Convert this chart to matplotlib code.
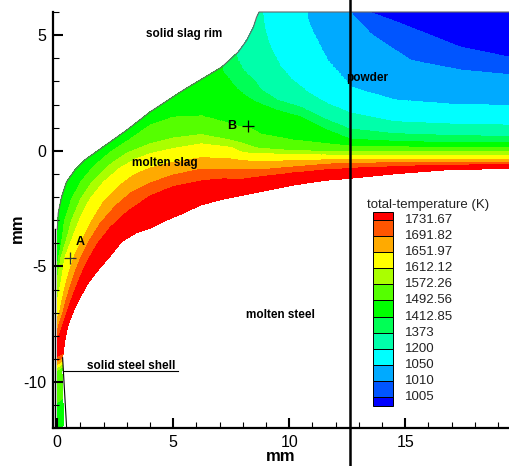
import numpy as np
import matplotlib
matplotlib.use("Agg")
import matplotlib.pyplot as plt
from matplotlib.patches import Rectangle

plt.rcParams['font.family'] = ['Liberation Sans', 'DejaVu Sans']
plt.rcParams['axes.unicode_minus'] = False

# contour levels of total temperature (K), hottest first, and the band colours
levels = [1731.67, 1691.82, 1651.97, 1612.12, 1572.26, 1492.56, 1412.85, 1373, 1200, 1050, 1010, 1005]
band_colors = ['#ff0000', '#ff5500', '#ffaa00', '#ffff00', '#aaff00', '#55ff00', '#00ff00',
               '#00ff55', '#00ffaa', '#00ffff', '#00aaff', '#0055ff', '#0000ff']

# slag / molten steel interface (mm) and the temperature on it (K)
surf_x = [0.3, 0.2, 0.22, 0.27, 0.33, 0.47, 0.69, 0.98, 1.27, 1.7, 2.2, 2.78, 3.4, 4.0, 4.72,
          5.43, 6.15, 7.4, 8.74, 10.17, 11.61, 12.62, 14.48, 16.64, 19.8]
surf_y = [-12.5, -9.6, -9.0, -8.6, -8.16, -7.51, -6.94, -6.36, -5.79, -5.22, -4.64, -3.92, -3.55,
          -3.34, -2.99, -2.7, -2.35, -2.02, -1.77, -1.48, -1.27, -1.19, -1.0, -0.83, -0.75]
surf_T = [1480, 1500, 1680] + [1760] * 22

# outer edge of the liquid slag: mould wall, solid slag rim, powder top
rim_x = [0.0, 0.0, 0.04, 0.19, 0.4, 0.76, 1.18, 1.98, 2.99, 4.0, 5.43, 7.09, 7.8, 8.16, 8.45,
         8.59, 8.7, 19.8]
rim_y = [-12.5, -3.4, -2.7, -1.98, -1.34, -0.83, -0.4, 0.17, 0.89, 1.68, 2.62, 3.62, 4.27, 4.77,
         5.34, 5.78, 6.0, 6.0]

# isotherms (x list, y list), mm
iso_1731 = ([-0.06, 0.12, 0.25, 0.42, 0.62, 0.85, 1.1, 1.4, 1.75, 2.3, 3.0, 4.0, 5.0, 6.2, 7.5,
             8.74, 10.2, 11.6, 12.6, 14.5, 16.6, 19.8],
            [-8.25, -7.9, -7.5, -7.0, -6.4, -5.8, -5.2, -4.6, -4.0, -3.3, -2.65, -1.95, -1.55, -1.3,
             -1.17, -1.12, -0.95, -0.82, -0.76, -0.68, -0.62, -0.58])
iso_1692 = ([-0.06, 0.08, 0.24, 0.4, 0.58, 0.78, 1.02, 1.35, 1.85, 2.5, 3.2, 4.0, 5.0, 6.2, 7.5,
             8.74, 10.2, 11.6, 12.6, 14.5, 16.6, 19.8],
            [-7.95, -7.5, -7.0, -6.4, -5.8, -5.2, -4.6, -3.95, -3.15, -2.4, -1.8, -1.4, -1.05, -0.8,
             -0.8, -0.83, -0.7, -0.58, -0.54, -0.52, -0.5, -0.5])
iso_1652 = ([-0.06, 0.1, 0.22, 0.36, 0.52, 0.72, 1.02, 1.45, 2.0, 2.7, 3.3, 4.0, 5.0, 6.2, 7.5,
             8.74, 10.2, 12.6, 16.6, 19.8],
            [-7.4, -7.0, -6.4, -5.8, -5.2, -4.6, -3.95, -3.1, -2.2, -1.5, -1.05, -0.75, -0.5, -0.3,
             -0.35, -0.47, -0.43, -0.37, -0.37, -0.37])
iso_1612 = ([-0.06, 0.02, 0.14, 0.24, 0.33, 0.6, 0.95, 1.4, 2.0, 2.7, 3.4, 4.0, 5.0, 6.2, 7.5,
             8.74, 10.2, 12.6, 16.6, 19.8],
            [-6.6, -6.4, -5.8, -5.2, -4.6, -3.9, -3.0, -2.1, -1.35, -0.75, -0.35, -0.13, 0.1, 0.3,
             0.15, -0.11, -0.17, -0.19, -0.19, -0.19])
iso_1572 = ([-0.06, 0.06, 0.16, 0.38, 0.62, 1.0, 1.5, 2.2, 3.0, 4.0, 5.0, 6.2, 7.5, 8.74, 10.2,
             12.6, 16.6, 19.8],
            [-5.9, -5.2, -4.6, -3.9, -3.0, -2.1, -1.35, -0.65, -0.1, 0.3, 0.55, 0.7, 0.45, 0.1, 0.0,
             -0.04, -0.04, -0.04])
iso_1493 = ([-0.06, 0.06, 0.2, 0.32, 0.62, 1.02, 1.55, 2.3, 3.15, 4.0, 5.0, 6.2, 7.5, 8.2, 8.74,
             10.2, 12.6, 16.6, 19.8],
            [-5.3, -4.6, -3.9, -3.0, -2.1, -1.35, -0.7, -0.05, 0.5, 1.1, 1.45, 1.5, 1.15, 0.88, 0.72,
             0.45, 0.2, 0.14, 0.12])
iso_1413 = ([6.85, 7.3, 7.7, 8.31, 9.47, 10.46, 11.6, 12.6, 14.5, 16.6, 19.8],
            [3.85, 3.2, 2.7, 2.19, 1.75, 1.47, 0.9, 0.5, 0.4, 0.35, 0.33])
iso_1373 = ([7.55, 8.02, 8.59, 9.47, 10.46, 11.6, 12.6, 14.5, 16.6, 19.8],
            [4.55, 3.48, 2.76, 2.19, 1.9, 1.35, 0.95, 0.75, 0.68, 0.62])
iso_1200 = ([8.8, 8.85, 8.95, 9.17, 9.6, 10.1, 10.8, 11.6, 12.6, 14.5, 17.0, 19.8],
            [6.2, 6.0, 5.2, 4.48, 3.62, 3.05, 2.5, 2.04, 1.64, 1.25, 1.15, 1.1])
iso_1050 = ([10.6, 10.67, 11.03, 11.61, 12.62, 14.49, 17.0, 19.8],
            [6.2, 6.0, 5.06, 3.91, 2.76, 2.19, 2.0, 1.93])
iso_1010 = ([12.55, 12.62, 13.48, 15.2, 17.36, 19.8],
            [6.2, 6.0, 5.06, 3.91, 3.48, 3.26])
iso_1005 = ([13.4, 13.48, 14.49, 15.92, 17.36, 19.8],
            [6.2, 6.0, 5.63, 5.06, 4.48, 3.98])
isolines = [iso_1731, iso_1692, iso_1652, iso_1612, iso_1572, iso_1493,
            iso_1413, iso_1373, iso_1200, iso_1050, iso_1010, iso_1005]

probe_x = 12.6
point_A = (0.55, -4.64)
point_B = (8.21, 1.06)
shell_x = [0.23, 0.4]
shell_y = [-8.95, -11.95]


def hits(a, b, px, py):
    # where segment a-b crosses the polyline px, py
    px = np.asarray(px, float)
    py = np.asarray(py, float)
    d = b - a
    ex, ey = np.diff(px), np.diff(py)
    wx, wy = px[:-1] - a[0], py[:-1] - a[1]
    den = d[0] * ey - d[1] * ex
    with np.errstate(divide='ignore', invalid='ignore'):
        t = (wx * ey - wy * ex) / den
        u = (wx * d[1] - wy * d[0]) / den
    ok = (t >= 0) & (t <= 1) & (u >= 0) & (u <= 1)
    return t[ok], u[ok], np.nonzero(ok)[0]


# mesh of transects across the slag layer: a fan round the meniscus, then verticals
C = np.array([6.4, -5.3])
a_end = np.degrees(np.arctan2(rim_y[-2] - C[1], rim_x[-2] - C[0]))
segs = []
for ang in np.radians(np.linspace(227, a_end, 240)):
    segs.append((C, C + 25 * np.array([np.cos(ang), np.sin(ang)])))
for x in np.arange(8.75, 19.75, 0.12):
    segs.append((np.array([x, -5.0]), np.array([x, 8.0])))

tt = np.linspace(0, 1, 160)
X, Y, Z = [], [], []
for a, b in segs:
    t, u, i = hits(a, b, surf_x, surf_y)
    k = np.argmin(t)
    T0 = surf_T[i[k]] + u[k] * (surf_T[i[k] + 1] - surf_T[i[k]])
    t2, _, _ = hits(a, b, rim_x, rim_y)
    t_out = t2[t2 > t[k]].min()
    A = a + t[k] * (b - a)
    B = a + t_out * (b - a)
    tk, Tk = [0.0], [T0]
    last = None
    for j, (L, (lx, ly)) in enumerate(zip(levels, isolines)):
        if L >= T0:
            continue
        tc, _, _ = hits(A, B, lx, ly)
        if len(tc):
            tk.append(tc.min())
            Tk.append(L)
            last = j
    if last is None:
        end = T0
    elif last < len(levels) - 1:
        end = (levels[last] + levels[last + 1]) / 2
    else:
        end = 1000
    tk.append(1.0)
    Tk.append(end)
    tk = np.maximum.accumulate(tk)
    Z.append(np.interp(tt, tk, Tk))
    X.append(A[0] + tt * (B[0] - A[0]))
    Y.append(A[1] + tt * (B[1] - A[1]))

fig = plt.figure(figsize=(5.09, 4.66), dpi=100)
ax = fig.add_axes([53 / 509, 37.7 / 466, 456 / 509, 416.3 / 466])

bounds = [900] + levels[::-1] + [2100]
ax.contourf(np.array(X), np.array(Y), np.array(Z), levels=bounds, colors=band_colors[::-1])

ax.plot(rim_x[1:], rim_y[1:], color='#666666', lw=0.8, clip_on=False)
ax.plot([-0.08, -0.08], [-12, -3.4], color='black', lw=1.0)
ax.plot(shell_x, shell_y, color='black', lw=0.8)
ax.plot([0.23, 5.19], [-9.53, -9.53], color='black', lw=0.8)
ax.axvline(probe_x, ymin=-0.1, ymax=1.1, color='black', lw=1.8, clip_on=False)

ax.plot(*point_A, marker='+', color='#333333', ms=9, mew=0.9)
ax.plot(*point_B, marker='+', color='black', ms=9, mew=0.9)
ax.text(0.97, -3.96, 'A', fontsize=9, fontweight='bold', ha='center', va='center')
ax.text(7.5, 1.06, 'B', fontsize=9, fontweight='bold', ha='center', va='center')

lab = dict(fontsize=8.5, fontweight='bold', ha='center', va='center')
ax.text(5.48, 5.03, 'solid slag rim', **lab)
ax.text(13.37, 3.15, 'powder', **lab)
ax.text(4.64, -0.54, 'molten slag', **lab)
ax.text(9.63, -7.12, 'molten steel', **lab)
ax.text(3.19, -9.3, 'solid steel shell', **lab)

ax.set_xlim(-0.185, 19.47)
ax.set_ylim(-12, 6)
ax.set_xticks([0, 5, 10, 15])
ax.set_yticks([-10, -5, 0, 5])
ax.set_xticks(np.arange(0, 20, 1), minor=True)
ax.set_yticks(np.arange(-12, 7, 1), minor=True)
ax.tick_params(which='major', direction='in', length=7, width=1.5, labelsize=11.5, pad=5)
ax.tick_params(which='minor', direction='in', length=4, width=0.8)
for s in ['top', 'right']:
    ax.spines[s].set_visible(False)
for s in ['left', 'bottom']:
    ax.spines[s].set_linewidth(1.6)
ax.set_xlabel('mm', fontsize=12, fontweight='bold')
ax.set_ylabel('mm', fontsize=12, fontweight='bold')
ax.xaxis.set_label_coords(0.5, -0.05)
ax.yaxis.set_label_coords(-0.062, 0.48)

# legend drawn in pixel units
lg = fig.add_axes([0, 0, 1, 1])
lg.set_xlim(0, 509)
lg.set_ylim(466, 0)
lg.axis('off')
top, step = 219.7, 16.14
edges = [top - 8] + [top + step * j for j in range(len(levels))] + [top + step * (len(levels) - 1) + 8.8]
for j, c in enumerate(band_colors):
    lg.add_patch(Rectangle((373, edges[j]), 20, edges[j + 1] - edges[j],
                           facecolor=c, edgecolor='black', lw=0.7))
for j, L in enumerate(levels):
    lg.text(405, top + step * j, f'{L:g}', va='center', ha='left', fontsize=9.5, color='#222222')
lg.text(366.7, 205, 'total-temperature (K)', va='center', ha='left', fontsize=9.5, color='#222222')

fig.savefig('out.png', dpi=100)
